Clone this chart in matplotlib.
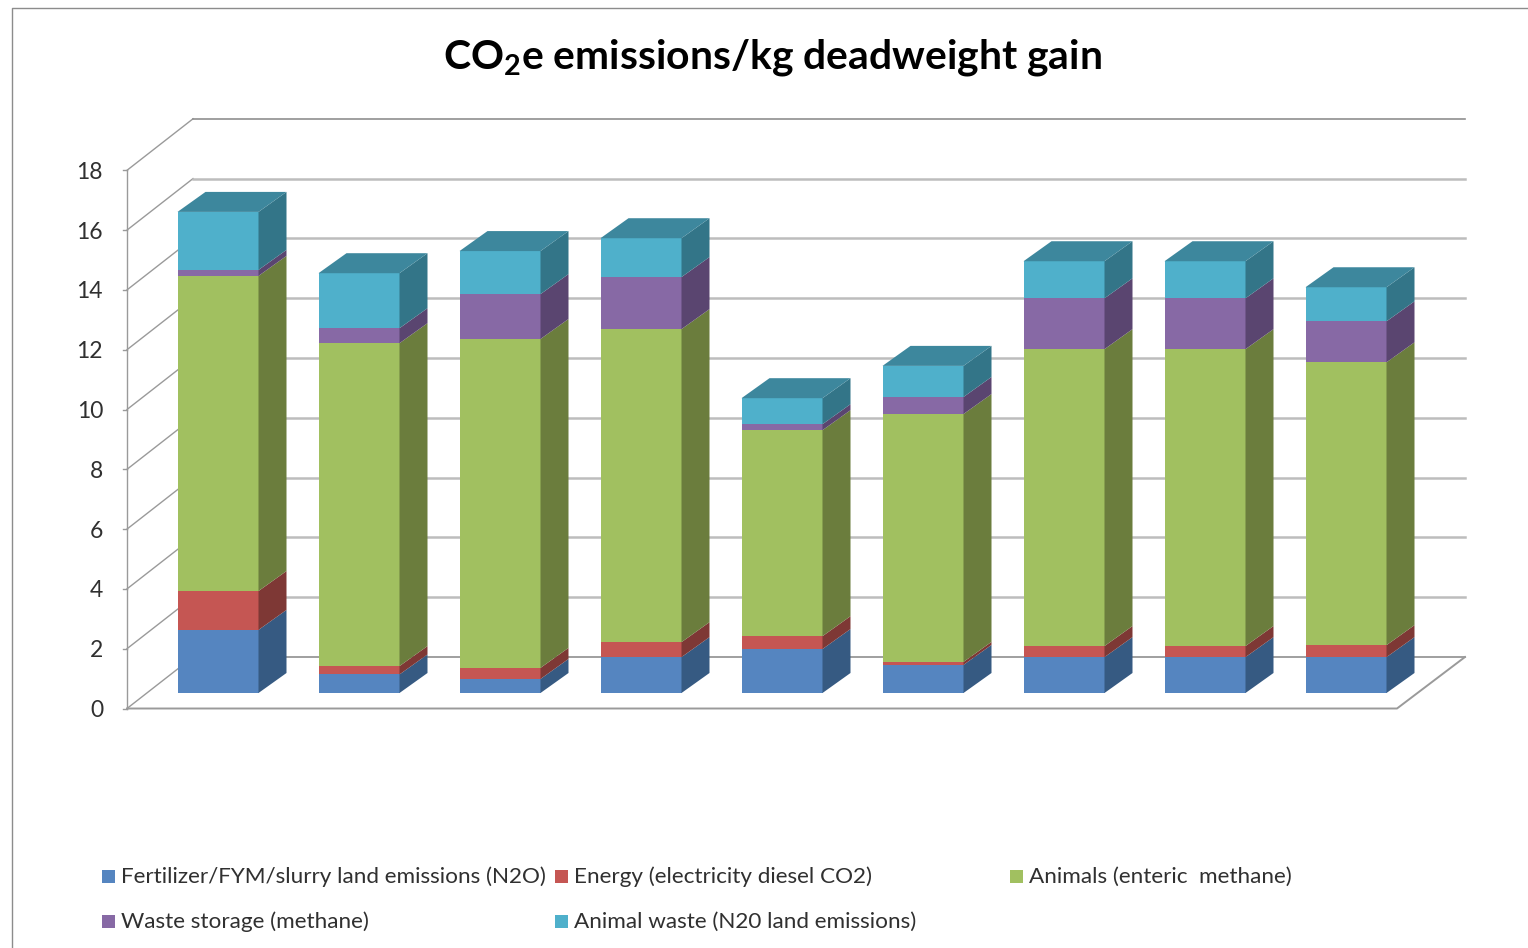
import numpy as np
import matplotlib
matplotlib.use("Agg")
import matplotlib.pyplot as plt
from matplotlib.patches import Rectangle

# ----------------------------
# Data
# ----------------------------
fertilizer = [2.11, 0.62, 0.47, 1.20, 1.47, 0.94, 1.20, 1.20, 1.20]
energy = [1.30, 0.28, 0.37, 0.50, 0.43, 0.10, 0.37, 0.37, 0.40]
animals = [10.54, 10.80, 11.00, 10.47, 6.89, 8.29, 9.93, 9.93, 9.46]
waste_storage = [0.20, 0.50, 1.50, 1.74, 0.20, 0.57, 1.70, 1.70, 1.37]
animal_waste = [1.94, 1.84, 1.44, 1.30, 0.87, 1.04, 1.24, 1.24, 1.14]

series_labels = [
    "Fertilizer/FYM/slurry land emissions (N2O)",
    "Energy (electricity diesel CO2)",
    "Animals (enteric  methane)",
    "Waste storage (methane)",
    "Animal waste (N20 land emissions)",
]
y_ticks = [0, 2, 4, 6, 8, 10, 12, 14, 16, 18]

# Colours: front face, side face
front_colors = ["#5585C0", "#C55653", "#A1C060", "#8769A5", "#4FB0CB"]
side_colors = ["#365A82", "#7E3835", "#6B7D3D", "#5A4570", "#337588"]
top_color = "#3D879D"
text_color = "#303030"

W, H = 1528, 948
PX_X = 141.0   # pixels per category
PX_Y = 29.9    # pixels per unit
X0, Y0 = 218.0, 693.0  # pixel of first bar centre, bar baseline

BAR_W = 81 / PX_X
DX = 28 / PX_X   # bar depth
DY = 20 / PX_Y


def px(x, y):
    # figure pixel -> data coords
    return (x - X0) / PX_X, (Y0 - y) / PX_Y


plt.rcParams["font.family"] = ["Lato", "DejaVu Sans"]
plt.rcParams["mathtext.fontset"] = "custom"
plt.rcParams["mathtext.bf"] = "Lato:bold"

fig = plt.figure(figsize=(W / 100, H / 100), dpi=100)
ax = fig.add_axes([0, 0, 1, 1])
ax.set_xlim(px(0, 0)[0], px(W, 0)[0])
ax.set_ylim(px(0, H)[1], px(0, 0)[1])
ax.axis("off")

# chart area border
ax.plot(*zip(px(12, H), px(12, 8), px(W, 8)), color="#8C8C8C", lw=1.0)

# ----------------------------
# Walls and gridlines
# ----------------------------
x_front_l = px(127, 0)[0]
x_back_l = px(193, 0)[0]
x_front_r = px(1397, 0)[0]
x_back_r = px(1465, 0)[0]
y_front = px(0, 708.5)[1]
y_back = px(0, 657)[1]

for v in y_ticks:
    edge = v in (0, 18)
    ax.plot([x_front_l, x_back_l], [y_front + v, y_back + v], color="#9A9A9A", lw=1.0, zorder=1)
    ax.plot([x_back_l, x_back_r], [y_back + v, y_back + v],
            color="#8F8F8F" if edge else "#BDBDBD", lw=1.2 if edge else 1.8, zorder=1)
    ax.plot([x_front_l - 4 / PX_X, x_front_l], [y_front + v, y_front + v], color="#9A9A9A", lw=1.0, zorder=1)
    ax.text(x_front_l - 24 / PX_X, y_front + v, str(v), ha="right", va="center_baseline",
            fontsize=16.5, color=text_color)

ax.plot([x_front_l, x_front_l], [y_front, y_front + 18], color="#9A9A9A", lw=1.0, zorder=1)
ax.plot([x_front_l, x_front_r, x_back_r], [y_front, y_front, y_back], color="#9A9A9A", lw=1.4, zorder=1)

# ----------------------------
# Stacked bars with fake depth
# ----------------------------
stack = np.array([fertilizer, energy, animals, waste_storage, animal_waste])
x = np.arange(stack.shape[1])
bottoms = np.zeros(stack.shape[1])

for values, c_front, c_side in zip(stack, front_colors, side_colors):
    ax.bar(x, values, BAR_W, bottom=bottoms, color=c_front, linewidth=0, zorder=3)
    for xi, b, v in zip(x, bottoms, values):
        right = xi + BAR_W / 2
        ax.fill([right, right + DX, right + DX, right],
                [b, b + DY, b + v + DY, b + v], color=c_side, lw=0, zorder=3)
    bottoms = bottoms + values

for xi, t in zip(x, bottoms):
    left, right = xi - BAR_W / 2, xi + BAR_W / 2
    ax.fill([left, right, right + DX, left + DX],
            [t, t, t + DY, t + DY], color=top_color, lw=0, zorder=3)

# ----------------------------
# Title and legend
# ----------------------------
tx, ty = px(772, 57)
ax.text(tx, ty, r"CO$_{\mathbf{2}}$e emissions/kg deadweight gain", ha="center", va="center",
        fontsize=29.4, fontweight="bold", color="black")

legend_pos = [(102, 876), (555, 876), (1010, 876), (102, 921), (555, 921)]
for label, color, (lx, ly) in zip(series_labels, front_colors, legend_pos):
    rx, ry = px(lx, ly + 6.5)
    ax.add_patch(Rectangle((rx, ry), 13 / PX_X, 13 / PX_Y, color=color, lw=0))
    tx, ty = px(lx + 19, ly + 1)
    ax.text(tx, ty, label, ha="left", va="center", fontsize=16.2, color=text_color)

fig.savefig("out.png", dpi=100)
